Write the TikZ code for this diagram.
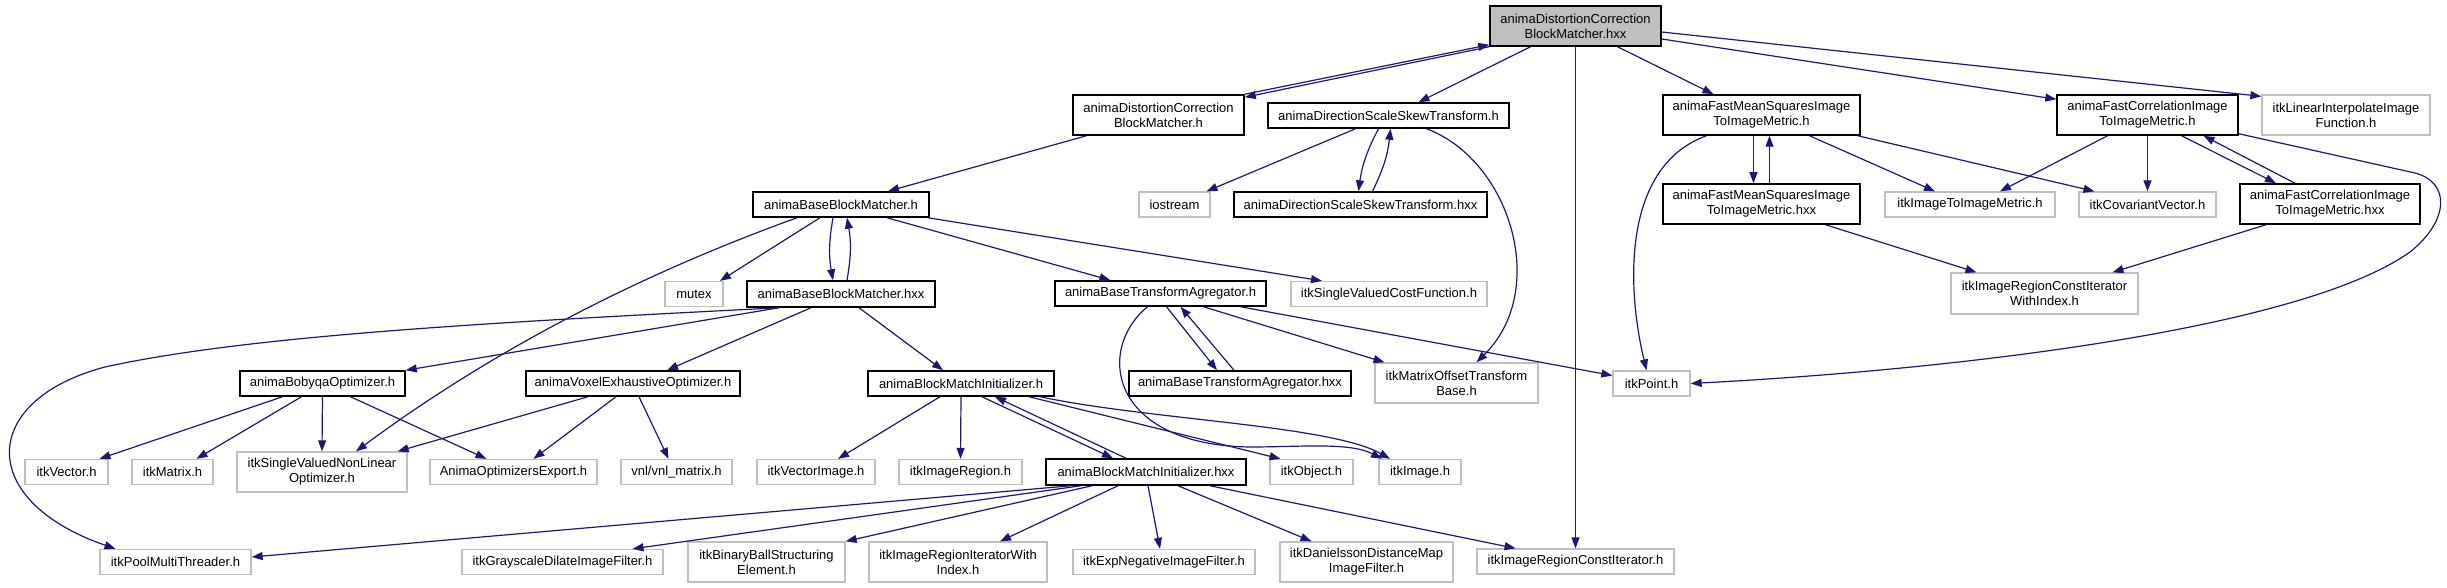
\documentclass[tikz,border=0pt]{standalone}
\usepackage{fontspec}
\setmainfont{Liberation Sans}
\usepackage{xcolor}
\usetikzlibrary{arrows.meta}
\definecolor{midnight}{RGB}{25,25,112}
\definecolor{greyline}{RGB}{191,191,191}

\begin{document}
\begin{tikzpicture}[x=1pt, y=-1pt,
    box/.style={draw=black, line width=1.5pt, fill=white, inner sep=0pt, align=center,
        minimum height=25pt, font=\fontsize{13}{15}\selectfont},
    two/.style={minimum height=40pt},
    ext/.style={box, draw=greyline, line width=1.3pt},
    inc/.style={draw=midnight, line width=1.2pt, -{Triangle[length=11pt,width=8pt]}}]
    \useasboundingbox (0,0) rectangle (2447,588);

    \node [box, two, fill=greyline, minimum width=171pt] (root) at (1575.5,26) {animaDistortionCorrection\\BlockMatcher.hxx};

    \node [box, two, minimum width=171pt] (dcbmh) at (1158.5,115) {animaDistortionCorrection\\BlockMatcher.h};
    \node [box, minimum width=241pt] (dssth) at (1388.5,115.5) {animaDirectionScaleSkewTransform.h};
    \node [box, two, minimum width=197pt] (fmsh) at (1761.5,115) {animaFastMeanSquaresImage\\ToImageMetric.h};
    \node [box, two, minimum width=181pt] (fch) at (2147.5,115) {animaFastCorrelationImage\\ToImageMetric.h};
    \node [ext, two, minimum width=168pt] (linint) at (2346,115) {itkLinearInterpolateImage\\Function.h};

    \node [box, minimum width=176pt] (bbmh) at (841,204.5) {animaBaseBlockMatcher.h};
    \node [ext, minimum width=71pt] (iostream) at (1174.5,204.5) {iostream};
    \node [box, minimum width=253pt] (dssthxx) at (1360.5,204.5) {animaDirectionScaleSkewTransform.hxx};
    \node [box, two, minimum width=197pt] (fmshxx) at (1761.5,204) {animaFastMeanSquaresImage\\ToImageMetric.hxx};
    \node [ext, minimum width=170pt] (imgmetric) at (1970,204.5) {itkImageToImageMetric.h};
    \node [ext, minimum width=137pt] (covvec) at (2147.5,204.5) {itkCovariantVector.h};
    \node [box, two, minimum width=180pt] (fchxx) at (2330,204) {animaFastCorrelationImage\\ToImageMetric.hxx};

    \node [ext, minimum width=58pt] (mutex) at (694,294) {mutex};
    \node [box, minimum width=188pt, minimum height=26pt] (bbmhxx) at (841,294) {animaBaseBlockMatcher.hxx};
    \node [box, minimum width=211pt] (btah) at (1160.5,293.5) {animaBaseTransformAgregator.h};
    \node [ext, minimum width=196pt] (svcost) at (1389,294) {itkSingleValuedCostFunction.h};
    \node [ext, two, minimum width=187pt, minimum height=41pt] (ircitidx) at (2044.5,293.5) {itkImageRegionConstIterator\\WithIndex.h};

    \node [box, minimum width=165pt] (bobyqa) at (322.5,383.5) {animaBobyqaOptimizer.h};
    \node [box, minimum width=214pt] (voxel) at (633,383.5) {animaVoxelExhaustiveOptimizer.h};
    \node [box, minimum width=186pt] (bmih) at (961,383.5) {animaBlockMatchInitializer.h};
    \node [box, minimum width=222pt] (btahxx) at (1240,383.5) {animaBaseTransformAgregator.hxx};
    \node [ext, two, minimum width=163pt] (matoff) at (1456.5,383) {itkMatrixOffsetTransform\\Base.h};
    \node [ext, minimum width=77pt] (point) at (1651.5,383.5) {itkPoint.h};

    \node [ext, minimum width=83pt] (itkvector) at (66.5,472) {itkVector.h};
    \node [ext, minimum width=81pt] (itkmatrix) at (172.5,472) {itkMatrix.h};
    \node [ext, two, minimum width=170pt] (svnlo) at (322,472) {itkSingleValuedNonLinear\\Optimizer.h};
    \node [ext, minimum width=167pt] (optexport) at (513.5,472) {AnimaOptimizersExport.h};
    \node [ext, minimum width=111pt] (vnl) at (676.5,472) {vnl/vnl\_matrix.h};
    \node [ext, minimum width=118pt] (vecimg) at (816,472) {itkVectorImage.h};
    \node [ext, minimum width=123pt] (imgregion) at (960.5,472) {itkImageRegion.h};
    \node [box, minimum width=200pt, minimum height=26pt] (bmihxx) at (1146,472) {animaBlockMatchInitializer.hxx};
    \node [ext, minimum width=83pt] (object) at (1311.5,472) {itkObject.h};
    \node [ext, minimum width=82pt] (image) at (1420,472) {itkImage.h};

    \node [ext, minimum width=151pt] (poolmt) at (175.5,562) {itkPoolMultiThreader.h};
    \node [ext, minimum width=201pt] (dilate) at (562.5,562) {itkGrayscaleDilateImageFilter.h};
    \node [ext, two, minimum width=157pt] (binball) at (766.5,562) {itkBinaryBallStructuring\\Element.h};
    \node [ext, two, minimum width=178pt] (irititx) at (958,562) {itkImageRegionIteratorWith\\Index.h};
    \node [ext, minimum width=182pt] (expneg) at (1164,562) {itkExpNegativeImageFilter.h};
    \node [ext, two, minimum width=173pt] (daniel) at (1366.5,562) {itkDanielssonDistanceMap\\ImageFilter.h};
    \node [ext, minimum width=197pt] (ircit) at (1575.5,561.5) {itkImageRegionConstIterator.h};

    \draw [inc] (root.south west) -- ([yshift=-3pt]dcbmh.north east);
    \draw [inc] (dcbmh.north east) -- ([yshift=2pt]root.south west);
    \draw [inc] ([xshift=-45pt]root.south) -- ([xshift=30pt]dssth.north);
    \draw [inc] (root.south) -- (ircit.north);
    \draw [inc] ([xshift=42pt]root.south) -- ([xshift=-48pt]fmsh.north);
    \draw [inc] ([yshift=-13pt]root.east) -- ([yshift=-5pt]fch.north west);
    \draw [inc] ([yshift=-6pt]root.east) -- ([yshift=-2pt]linint.north west);

    \draw [inc] ([xshift=-72pt]dcbmh.south) -- ([xshift=47pt]bbmh.north);
    \draw [inc] ([xshift=-33pt]dssth.south) -- ([xshift=32pt]iostream.north);
    \draw [inc] ([xshift=-10pt]dssth.south) to[bend right=10] ([xshift=-2pt]dssthxx.north);
    \draw [inc] ([xshift=12pt]dssthxx.north) to[bend right=10] ([xshift=2pt]dssth.south);
    \draw [inc] ([xshift=38pt]dssth.south) .. controls (1510,160) and (1550,290) .. ([xshift=20pt]matoff.north);

    \draw [inc] ([xshift=-55pt]fmsh.south) .. controls (1625,165) and (1625,280) .. ([xshift=-5pt]point.north);
    \draw [inc] ([xshift=-8pt]fmsh.south) -- ([xshift=-8pt]fmshxx.north);
    \draw [inc] ([xshift=8pt]fmshxx.north) -- ([xshift=8pt]fmsh.south);
    \draw [inc] ([xshift=48pt]fmsh.south) -- ([xshift=-35pt]imgmetric.north);
    \draw [inc] ([xshift=-3pt]fmsh.south east) -- ([xshift=-53pt]covvec.north);
    \draw [inc] ([xshift=-40pt]fch.south) -- ([xshift=30pt]imgmetric.north);
    \draw [inc] (fch.south) -- (covvec.north);
    \draw [inc] ([xshift=34pt]fch.south) -- ([xshift=-54pt]fchxx.north);
    \draw [inc] ([xshift=-35pt]fchxx.north) -- ([xshift=56pt]fch.south);
    \draw [inc] ([yshift=2pt]fch.south east) -- (2415,173) .. controls (2450,182) and (2450,220) .. (2410,252)
        .. controls (2300,330) and (1950,370) .. (point.east);
    \draw [inc] ([xshift=64pt]fmshxx.south) -- ([xshift=-68pt]ircitidx.north);
    \draw [inc] ([xshift=-64pt]fchxx.south) -- ([xshift=68pt]ircitidx.north);

    \draw [inc] ([xshift=-21pt]bbmh.south) -- ([xshift=26pt]mutex.north);
    \draw [inc] ([xshift=-8pt]bbmh.south) to[bend right=10] ([xshift=-8pt]bbmhxx.north);
    \draw [inc] ([xshift=6pt]bbmhxx.north) to[bend right=10] ([xshift=6pt]bbmh.south);
    \draw [inc] ([xshift=46pt]bbmh.south) -- ([xshift=-50pt]btah.north);
    \draw [inc] ([xshift=-2pt]bbmh.south east) -- ([xshift=-67pt]svcost.north);
    \draw [inc] ([xshift=-44pt]bbmh.south) .. controls (680,260) and (520,330) .. ([xshift=34pt]svnlo.north);

    \draw [inc] ([xshift=-62pt]bbmhxx.south) .. controls (500,322) and (250,335) .. (105,367)
        .. controls (-20,400) and (-25,500) .. ([xshift=-60pt]poolmt.north);
    \draw [inc] ([xshift=-62pt]bbmhxx.south) -- (bobyqa.north east);
    \draw [inc] ([xshift=-30pt]bbmhxx.south) -- ([xshift=34pt]voxel.north);
    \draw [inc] ([xshift=18pt]bbmhxx.south) -- ([xshift=-18pt]bmih.north);

    \draw [inc] ([xshift=6pt]btah.south) -- ([xshift=-23pt]btahxx.north);
    \draw [inc] ([xshift=-6pt]btahxx.north) -- ([xshift=20pt]btah.south);
    \draw [inc] ([xshift=43pt]btah.south) -- ([xshift=-72pt]matoff.north);
    \draw [inc] ([xshift=80pt]btah.south) -- ([yshift=8pt]point.west);
    \draw [inc] ([xshift=-13pt]btah.south) .. controls (1095,350) and (1110,445) .. (1250,447)
        .. controls (1300,447) and (1350,442) .. ([xshift=-38pt]image.north);

    \draw [inc] ([xshift=-21pt]bmih.south) -- ([xshift=22pt]vecimg.north);
    \draw [inc] (bmih.south) -- (imgregion.north);
    \draw [inc] ([xshift=21pt]bmih.south) -- ([xshift=-33pt]bmihxx.north);
    \draw [inc] ([xshift=-20pt]bmihxx.north) -- ([xshift=34pt]bmih.south);
    \draw [inc] ([xshift=68pt]bmih.south) -- ([xshift=-31pt]object.north);
    \draw [inc] ([xshift=79pt]bmih.south) .. controls (1150,420) and (1330,425) .. ([xshift=-30pt]image.north);

    \draw [inc] ([xshift=-75pt]bmihxx.south) -- ([yshift=5pt]poolmt.east);
    \draw [inc] ([xshift=-65pt]bmihxx.south) -- ([xshift=70pt]dilate.north);
    \draw [inc] ([xshift=-54pt]bmihxx.south) -- (binball.north east);
    \draw [inc] ([xshift=-28pt]bmihxx.south) -- ([xshift=42pt]irititx.north);
    \draw [inc] ([xshift=2pt]bmihxx.south) -- ([xshift=-4pt]expneg.north);
    \draw [inc] ([xshift=32pt]bmihxx.south) -- ([xshift=-55pt]daniel.north);
    \draw [inc] ([xshift=64pt]bmihxx.south) -- ([xshift=-60pt]ircit.north);

    \draw [inc] ([xshift=-40pt]bobyqa.south) -- ([xshift=33pt]itkvector.north);
    \draw [inc] ([xshift=-21pt]bobyqa.south) -- ([xshift=24pt]itkmatrix.north);
    \draw [inc] (bobyqa.south) -- (svnlo.north);
    \draw [inc] ([xshift=28pt]bobyqa.south) -- ([xshift=-27pt]optexport.north);
    \draw [inc] ([xshift=-45pt]voxel.south) -- ([xshift=-10pt]svnlo.north east);
    \draw [inc] ([xshift=-17pt]voxel.south) -- ([xshift=20pt]optexport.north);
    \draw [inc] ([xshift=6pt]voxel.south) -- ([xshift=-8pt]vnl.north);
\end{tikzpicture}
\end{document}
